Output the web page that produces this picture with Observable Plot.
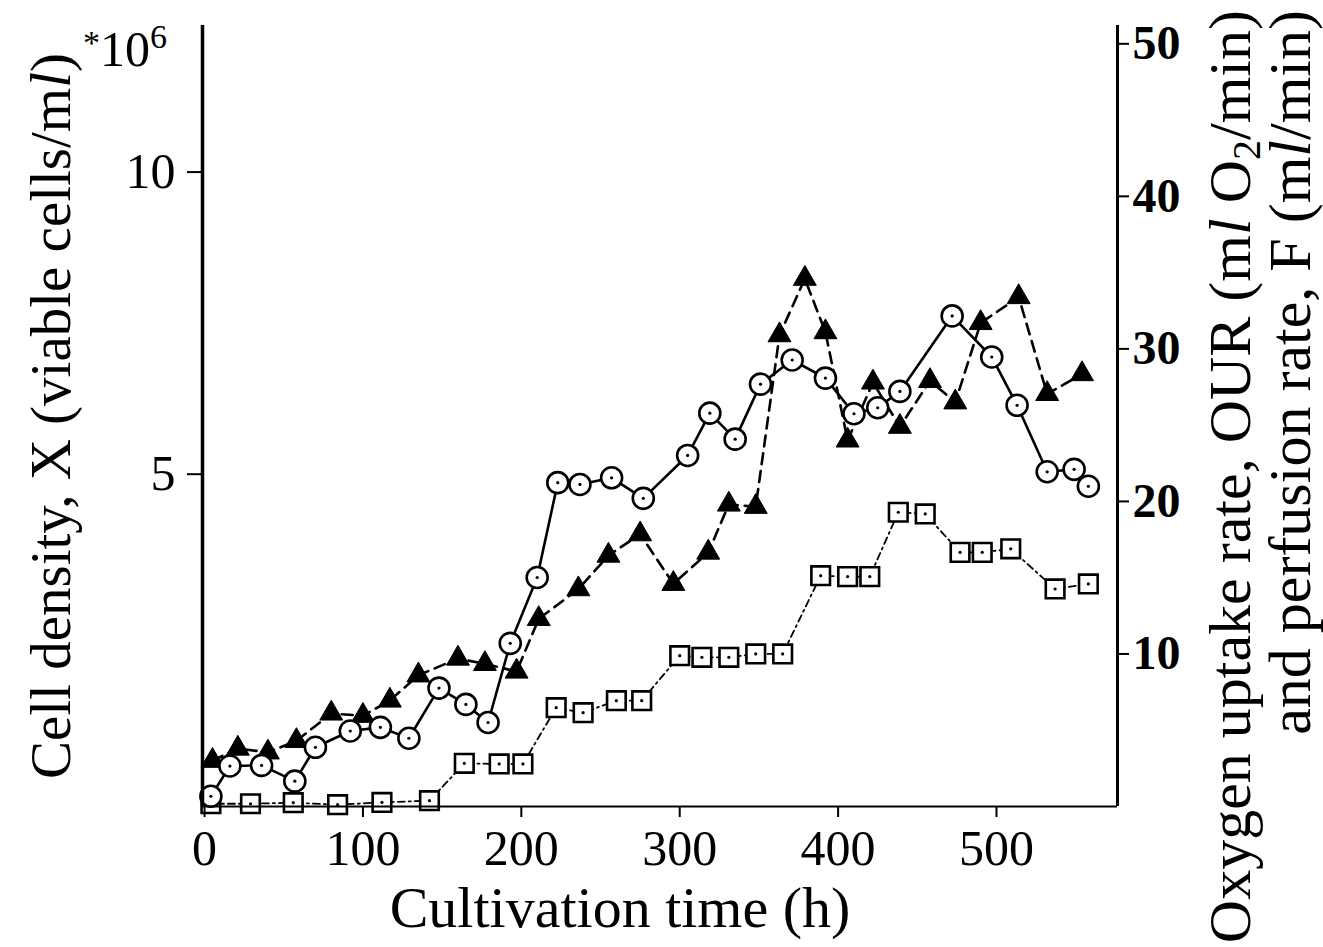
<!DOCTYPE html>
<html><head><meta charset="utf-8">
<script src="https://cdn.jsdelivr.net/npm/d3@7"></script>
<script src="https://cdn.jsdelivr.net/npm/@observablehq/plot@0.6"></script>
<style>body{margin:0;background:#fff;} #chart svg{display:block}</style>
</head><body><div id="chart"></div>
<script>
// Cell density X (10^6 viable cells/ml) — left axis
const cellTime = [4,16,36,57,70,92,111,129,148,165,179,193,210,223,237,257,277,305,319,335,351,371,392,410,425,439,472,497,513,532,549,558];
const cellDensity = [-0.33,0.17,0.18,-0.08,0.48,0.75,0.81,0.63,1.46,1.19,0.89,2.20,3.29,4.86,4.83,4.94,4.60,5.31,6.01,5.58,6.49,6.89,6.59,6.00,6.10,6.37,7.62,6.94,6.14,5.04,5.08,4.80];
// Oxygen uptake rate OUR (ml O2/min) — right axis
const ourTime = [5,21,40,58,80,100,117,135,160,177,197,211,236,255,275,296,318,331,348,363,379,392,406,422,439,458,474,490,514,532,554];
const ourValue = [3.0,3.8,3.55,4.3,6.1,5.95,6.95,8.6,9.7,9.35,8.85,12.3,14.25,16.45,17.85,14.6,16.65,19.8,19.65,30.9,34.6,31.1,24.0,27.8,24.9,27.9,26.5,31.7,33.4,27.05,28.35];
// Perfusion rate F (ml/min) — right axis
const fTime = [4,29,56,84,112,142,164,186,201,222,239,260,276,300,314,331,348,365,389,406,420,438,455,477,491,509,537,558];
const fValue = [0.18,0.18,0.25,0.12,0.27,0.38,2.83,2.79,2.79,6.48,6.15,6.94,6.94,9.89,9.78,9.78,10.0,10.0,15.13,15.07,15.07,19.29,19.18,16.66,16.66,16.89,14.26,14.59];

const xTicks = [0,100,200,300,400,500];
const leftTicks = [5,10];
const rightTicks = [10,20,30,40,50];

// left axis expressed in right-axis units (twin axes)
const L0 = 1.98, LK = 3.961;
const toRight = u => L0 + LK * u;
const fromRight = v => (v - L0) / LK;

const xDomain = [-1.3, 576.4];
const yDomain = [0, 51.2];

const cellData = cellTime.map((t, i) => ({t, v: toRight(cellDensity[i])}));
const ourData = ourTime.map((t, i) => ({t, v: ourValue[i]}));
const fData = fTime.map((t, i) => ({t, v: fValue[i]}));

const chart = Plot.plot({
  width: 1323, height: 947,
  marginLeft: 202, marginRight: 206, marginTop: 25, marginBottom: 141,
  style: {fontFamily: "'Liberation Serif', serif", background: "white", color: "black"},
  x: {domain: xDomain, axis: null},
  y: {domain: yDomain, axis: null},
  marks: [
    Plot.lineY(fData, {x: "t", y: "v", stroke: "black", strokeWidth: 1.8, strokeDasharray: "7,4,2,4"}),
    Plot.lineY(ourData, {x: "t", y: "v", stroke: "black", strokeWidth: 2.6, strokeDasharray: "11,7"}),
    Plot.lineY(cellData, {x: "t", y: "v", stroke: "black", strokeWidth: 2.6}),
    Plot.dot(fData, {x: "t", y: "v", symbol: "square", r: 10.5, fill: "white", stroke: "black", strokeWidth: 2.6}),
    Plot.dot(fData, {x: "t", y: "v", r: 1.6, fill: "black"}),
    Plot.dot(ourData, {x: "t", y: "v", symbol: "triangle", r: 8.5, fill: "black", stroke: "black", strokeWidth: 1}),
    Plot.dot(cellData, {x: "t", y: "v", r: 10.5, fill: "white", stroke: "black", strokeWidth: 2.6}),
    Plot.dot(cellData, {x: "t", y: "v", r: 1.6, fill: "black"}),
    Plot.ruleX([xDomain[0]], {stroke: "black", strokeWidth: 3.5}),
    Plot.ruleX([xDomain[1]], {stroke: "black", strokeWidth: 3}),
    Plot.ruleY([yDomain[0]], {stroke: "black", strokeWidth: 2.2}),
    Plot.axisX(xTicks, {anchor: "bottom", tickSize: 11, tickPadding: 12, fontSize: 50, label: null, strokeWidth: 2}),
    Plot.axisY(leftTicks.map(toRight), {anchor: "left", tickSize: 15, tickPadding: 12, fontSize: 50, label: null, strokeWidth: 2,
      tickFormat: d => String(Math.round(fromRight(d)))}),
    Plot.axisY(rightTicks, {anchor: "right", tickSize: 11, tickPadding: 4, fontSize: 48, fontWeight: "bold", label: null, strokeWidth: 2})
  ]
});

const svg = d3.select(chart);
const F = "'Liberation Serif', serif";

// x title
svg.append("text").attr("x", 620).attr("y", 927).attr("text-anchor", "middle")
  .attr("font-family", F).attr("font-size", 58).attr("fill", "black").text("Cultivation time (h)");

// left title
const lt = svg.append("text").attr("transform", "translate(70,416) rotate(-90)").attr("text-anchor", "middle")
  .attr("font-family", F).attr("font-size", 57).attr("fill", "black");
lt.append("tspan").text("Cell density, X (viable cells/m");
lt.append("tspan").attr("font-style", "italic").text("l");
lt.append("tspan").text(")");

// multiplier
const mt = svg.append("text").attr("x", 83).attr("y", 66).attr("text-anchor", "start").attr("font-family", F).attr("fill", "black");
mt.append("tspan").attr("font-size", 34).attr("dy", -12).text("*");
mt.append("tspan").attr("font-size", 50).attr("dy", 12).text("10");
mt.append("tspan").attr("font-size", 34).attr("dy", -18).text("6");

// right title, two lines
const r1 = svg.append("text").attr("transform", "translate(1250,10) rotate(-90)").attr("text-anchor", "end")
  .attr("font-family", F).attr("font-size", 60).attr("fill", "black");
r1.append("tspan").text("Oxygen uptake rate, OUR (m");
r1.append("tspan").attr("font-style", "italic").text("l");
r1.append("tspan").text(" O");
r1.append("tspan").attr("font-size", 40).attr("dy", 10).text("2");
r1.append("tspan").attr("dy", -10).text("/min)");

const r2 = svg.append("text").attr("transform", "translate(1310,10) rotate(-90)").attr("text-anchor", "end")
  .attr("font-family", F).attr("font-size", 60).attr("fill", "black");
r2.append("tspan").text("and perfusion rate, F (m");
r2.append("tspan").attr("font-style", "italic").text("l");
r2.append("tspan").text("/min)");

document.getElementById("chart").appendChild(chart);
</script>
</body></html>
